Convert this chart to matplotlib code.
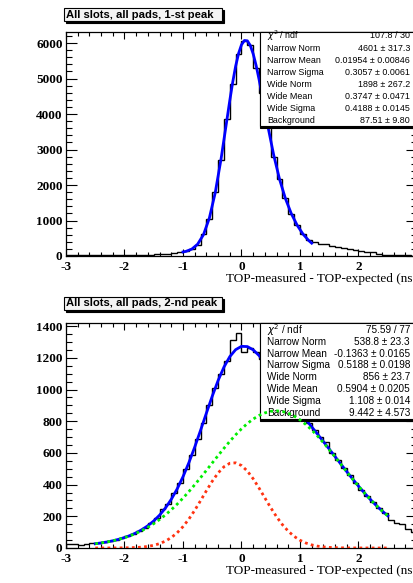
import numpy as np
import matplotlib
matplotlib.use("Agg")
import matplotlib.pyplot as plt
from matplotlib.patches import Rectangle

# ── Data ──────────────────────────────────────────────────────────────────────

EDGES = np.round(np.arange(-3.0, 3.0001, 0.1), 2)

# 1-st peak histogram, 60 bins of 0.1 ns
H1 = [20, 25, 22, 28, 25, 30, 28, 25, 30, 32, 30, 35, 33, 38, 40, 45, 50,
      70, 90, 110,
      135, 200, 320, 610, 1050, 1800, 2700, 3850, 4850, 5700, 6050, 5950,
      5300, 4600, 3650, 2800, 2180, 1640, 1180, 880, 630, 440,
      390, 350, 330, 290, 260, 225, 195, 170, 150, 125, 100, 70, 40, 25,
      20, 18, 15, 12]

# 1-st peak fit curve (blue)
FIT1_X = [-1.0, -0.95, -0.85, -0.75, -0.65, -0.55, -0.45, -0.35, -0.25, -0.2,
          -0.15, -0.1, -0.05, 0.0, 0.05, 0.1, 0.15, 0.2, 0.25, 0.3, 0.35,
          0.45, 0.55, 0.65, 0.75, 0.85, 0.95, 1.05, 1.15, 1.2]
FIT1_Y = [114, 130, 194, 332, 600, 1065, 1775, 2728, 3830, 4383,
          4898, 5348, 5706, 5951, 6071, 6062, 5932, 5693, 5366, 4976, 4547,
          3662, 2847, 2165, 1622, 1199, 871, 620, 434, 362]

# 2-nd peak histogram, 60 bins of 0.1 ns
H2 = [28, 25, 22, 28, 30,
      30, 35, 42, 50, 60, 73, 88, 106, 128, 155, 188, 245, 279, 345, 410,
      500, 586, 690, 790, 905, 1008, 1100, 1180, 1310, 1360, 1240, 1260,
      1234, 1193, 1143, 1090, 1035, 982, 931, 882, 834, 788, 742, 700,
      670, 600, 553, 505, 458, 413, 369, 327, 288, 252, 219,
      175, 160, 150, 120, 98]

# 2-nd peak fit components
FIT2_X = np.round(np.arange(-2.5, 2.5001, 0.1), 2)
NARROW2 = [0.0, 0.0, 0.1, 0.2, 0.4, 0.9, 1.7, 3.1, 5.7, 10.1, 17.0, 27.7,
           43.5, 65.9, 96.0, 134.8, 182.3, 237.7, 298.6, 361.4, 421.4, 473.5,
           512.6, 534.7, 537.5, 520.5, 485.7, 436.7, 378.3, 315.8, 254.0,
           196.8, 146.9, 105.7, 73.3, 48.9, 31.5, 19.5, 11.7, 6.7, 3.7, 2.0,
           1.0, 0.5, 0.3, 0.1, 0.1, 0.0, 0.0, 0.0, 0.0]
WIDE2 = [26.9, 31.9, 37.9, 45.3, 54.3, 65.1, 77.9, 92.9, 110.5, 130.7, 153.8,
         179.9, 209.1, 241.5, 276.7, 314.9, 355.8, 398.9, 443.8, 490.0, 536.8,
         583.4, 629.2, 673.1, 714.4, 752.1, 785.5, 813.9, 836.5, 852.8, 862.6,
         865.4, 861.2, 850.3, 832.6, 808.8, 779.5, 745.1, 706.7, 664.8, 620.5,
         574.6, 527.9, 481.1, 435.1, 390.5, 347.8, 307.4, 269.7, 235.0, 203.3]
TOTAL2 = [n + w for n, w in zip(NARROW2, WIDE2)]

STATS1 = [("$\\chi^2$ / ndf", "107.8 / 30"),
          ("Narrow Norm", "4601 ± 317.3"),
          ("Narrow Mean", "0.01954 ± 0.00846"),
          ("Narrow Sigma", "0.3057 ± 0.0061"),
          ("Wide Norm", "1898 ± 267.2"),
          ("Wide Mean", "0.3747 ± 0.0471"),
          ("Wide Sigma", "0.4188 ± 0.0145"),
          ("Background", "87.51 ± 9.80")]
STATS2 = [("$\\chi^2$ / ndf", "75.59 / 77"),
          ("Narrow Norm", "538.8 ± 23.3"),
          ("Narrow Mean", "-0.1363 ± 0.0165"),
          ("Narrow Sigma", "0.5188 ± 0.0198"),
          ("Wide Norm", "856 ± 23.7"),
          ("Wide Mean", "0.5904 ± 0.0205"),
          ("Wide Sigma", "1.108 ± 0.014"),
          ("Background", "9.442 ± 4.573")]

TITLES = ["All slots, all pads, 1-st peak", "All slots, all pads, 2-nd peak"]
XLABEL = "TOP-measured - TOP-expected (ns)"
XTICKS = [-3, -2, -1, 0, 1, 2, 3]
XTICKLABELS = ["-3", "-2", "-1", "0", "1", "2", ""]  # "3" falls off the canvas

# ── Layout helpers (pixel coordinates of a 414x583 canvas) ───────────────────

W, H = 414, 583
fig = plt.figure(figsize=(W / 100, H / 100), dpi=100)
fig.patch.set_facecolor("white")


def fx(x):
    return x / W


def fy(y):
    return 1 - y / H


SERIF = "Liberation Serif"
SANS = "Liberation Sans"


def make_axes(top, bottom, ymax, ymajor, yminor):
    ax = fig.add_axes([fx(66), fy(bottom), fx(417 - 66), (bottom - top) / H])
    ax.set_xlim(-3, 3)
    ax.set_ylim(0, ymax)
    ax.set_xticks(XTICKS)
    ax.set_xticklabels(XTICKLABELS)
    ax.set_xticks(np.arange(-3, 3.01, 0.2), minor=True)
    ax.set_yticks(np.arange(0, ymax, ymajor))
    ax.set_yticks(np.arange(0, ymax, yminor), minor=True)
    ax.tick_params(axis="both", which="both", direction="in",
                   top=True, right=True, width=0.8, color="black")
    ax.tick_params(axis="x", which="major", length=5, pad=3.5)
    ax.tick_params(axis="x", which="minor", length=2.7)
    ax.tick_params(axis="y", which="major", length=8, pad=2.5)
    ax.tick_params(axis="y", which="minor", length=4.3)
    for lab in ax.get_xticklabels() + ax.get_yticklabels():
        lab.set_fontfamily(SERIF)
        lab.set_fontweight("bold")
        lab.set_fontsize(9.5)
    for sp in ax.spines.values():
        sp.set_linewidth(0.9)
    ax.text(1.0, -23 / (bottom - top), XLABEL, transform=ax.transAxes,
            ha="right", va="center", fontsize=9.5, family=SERIF)
    return ax


def title_box(text, x0, y0, x1, y1):
    fig.patches.append(Rectangle((fx(x0 + 2), fy(y1 + 2)), fx(x1 - x0), (y1 - y0) / H,
                                 transform=fig.transFigure, facecolor="black",
                                 edgecolor="black", lw=0.8, zorder=1))
    fig.patches.append(Rectangle((fx(x0), fy(y1)), fx(x1 - x0), (y1 - y0) / H,
                                 transform=fig.transFigure, facecolor="#f4f4f4",
                                 edgecolor="black", lw=0.8, zorder=2))
    fig.text(fx(x0 + 2), fy((y0 + y1) / 2), text, ha="left", va="center",
             family=SANS, fontweight="bold", fontsize=8.1, zorder=3)


def stat_box(ax, rows, x0, y0, y1, y_first, step, size):
    ax.add_patch(Rectangle((fx(x0), fy(y1 + 2)), fx(W + 10 - x0), (y1 - y0 + 2) / H,
                           transform=fig.transFigure, facecolor="black",
                           edgecolor="black", lw=0.8, clip_on=False, zorder=5))
    ax.add_patch(Rectangle((fx(x0), fy(y1)), fx(W + 10 - x0), (y1 - y0) / H,
                           transform=fig.transFigure, facecolor="white",
                           edgecolor="black", lw=0.8, clip_on=False, zorder=5))
    for i, (name, val) in enumerate(rows):
        y = fy(y_first + i * step)
        ax.text(fx(x0 + 7), y, name, transform=fig.transFigure, ha="left",
                va="center", family=SANS, fontsize=size, zorder=6)
        ax.text(fx(410), y, val, transform=fig.transFigure, ha="right",
                va="center", family=SANS, fontsize=size, zorder=6)


# ── Panel 1: 1-st peak ────────────────────────────────────────────────────────

ax1 = make_axes(32, 256, 6310, 1000, 200)
ax1.stairs(H1, EDGES, color="black", lw=1.0, zorder=2)
ax1.plot(FIT1_X, FIT1_Y, color="#0000ff", lw=2.0, zorder=3)
stat_box(ax1, STATS1, 260, 32, 126, 36, 12.1, 6.4)
title_box(TITLES[0], 64, 8, 222, 21)

# ── Panel 2: 2-nd peak ────────────────────────────────────────────────────────

ax2 = make_axes(323, 548, 1420, 200, 50)
ax2.stairs(H2, EDGES, color="black", lw=1.0, zorder=2)
ax2.plot(FIT2_X, TOTAL2, color="#0000ff", lw=2.0, zorder=3)
stat_box(ax2, STATS2, 260, 323, 419, 330, 11.8, 7.2)
ax2.plot(FIT2_X, WIDE2, color="#00ee00", lw=2.0, ls=(0, (1, 1.2)), zorder=7)
ax2.plot(FIT2_X, NARROW2, color="#ff3311", lw=2.0, ls=(0, (1, 1.2)), zorder=7)
title_box(TITLES[1], 64, 297, 222, 310)

fig.savefig("out.png", dpi=100)
